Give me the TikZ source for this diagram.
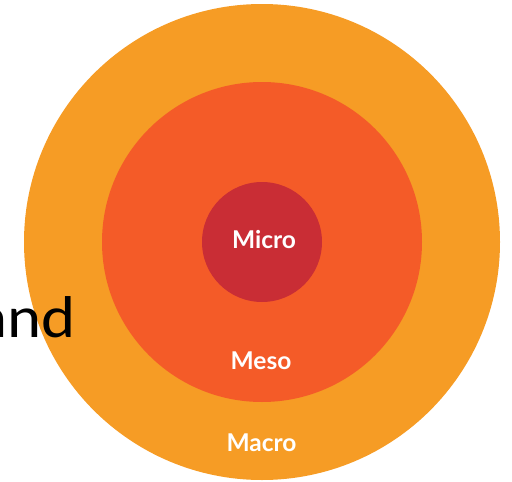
\documentclass[tikz,border=0pt]{standalone}
\usepackage{fontspec}
\setmainfont{Lato}
\newfontfamily\andfont{Carlito}
\definecolor{macroC}{HTML}{F69C25}
\definecolor{mesoC}{HTML}{F45B28}
\definecolor{microC}{HTML}{C92D35}
\begin{document}
\begin{tikzpicture}[x=1pt,y=-1pt,
  ring/.style={circle,inner sep=0pt,draw=none},
  lbl/.style={text=white,font=\fontsize{24.5}{28}\selectfont\bfseries,inner sep=0pt,anchor=base}]
\useasboundingbox (0,0) rectangle (512,482);
\node[ring,fill=macroC,minimum size=476pt] (macro) at (262,242) {};
\node[ring,fill=mesoC,minimum size=320pt] (meso) at (262,242) {};
\node[ring,fill=microC,minimum size=120pt] (micro) at (262,242) {};
\node[lbl] (microlbl) at (264,248) {Micro};
\node[lbl] (mesolbl) at (261,369) {Meso};
\node[lbl] (macrolbl) at (261.5,451) {Macro};
\node[anchor=base east,inner sep=0pt,xscale=1.1,font=\andfont\fontsize{59}{64}\selectfont] (and) at (76,337) {and};
\end{tikzpicture}
\end{document}
